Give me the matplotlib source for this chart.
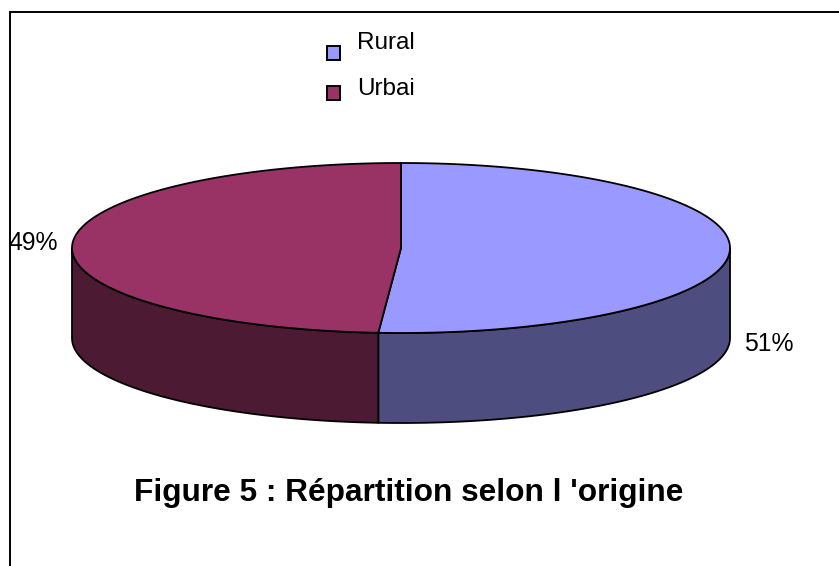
import numpy as np
import matplotlib
matplotlib.use("Agg")
import matplotlib.pyplot as plt
from matplotlib.patches import Polygon

categories = ["Rural", "Urbai"]
values = [51.1, 48.9]
pct_labels = ["51%", "49%"]
title = "Figure 5 : Répartition selon l 'origine"
top_colors = ["#9999FF", "#993366"]
side_colors = ["#4D4D80", "#4D1A33"]

W, H = 839, 566
plt.rcParams["font.family"] = ["Liberation Sans", "DejaVu Sans"]
fig = plt.figure(figsize=(W / 100, H / 100), dpi=100)
ax = fig.add_axes([0, 0, 1, 1])
ax.set_xlim(0, W)
ax.set_ylim(H, 0)
ax.axis("off")

cx, cy, rx, ry, depth = 401, 248, 329, 85, 90
fr = np.cumsum([0] + values) / sum(values) * 2 * np.pi


def pt(t, dy=0):
    return np.column_stack([cx + rx * np.sin(t), cy - ry * np.cos(t) + dy])


lw = 1.3
for i in range(len(values)):
    a, b = fr[i], fr[i + 1]
    lo, hi = max(a, np.pi / 2), min(b, 3 * np.pi / 2)
    if hi > lo:
        t = np.linspace(lo, hi, 200)
        poly = np.vstack([pt(t), pt(t[::-1], depth)])
        ax.add_patch(Polygon(poly, closed=True, fc=side_colors[i], ec="black", lw=lw, zorder=2))
for i in range(len(values)):
    t = np.linspace(fr[i], fr[i + 1], 300)
    poly = np.vstack([[cx, cy], pt(t)])
    ax.add_patch(Polygon(poly, closed=True, fc=top_colors[i], ec="black", lw=lw, zorder=3))

ax.plot([10, 10, W], [H, 11.5, 11.5], color="black", lw=1.4, zorder=1, solid_joinstyle="miter")

for i, (name, y, ty) in enumerate(zip(categories, [53, 92.5], [43, 89])):
    ax.add_patch(Polygon([[327, y - 7], [340, y - 7], [340, y + 7], [327, y + 7]], closed=True,
                         fc=top_colors[i], ec="black", lw=1.4, zorder=3))
    ax.text(357, ty, name, fontsize=17.5, va="center", ha="left", color="black")

ax.text(769, 344, pct_labels[0], fontsize=17.8, ha="center", va="center", color="black")
ax.text(33, 243, pct_labels[1], fontsize=17.8, ha="center", va="center", color="black", zorder=5)
ax.text(408.5, 492.5, title, fontsize=22.8, fontweight="bold", ha="center", va="center", color="black")

fig.savefig("out.png", dpi=100)
